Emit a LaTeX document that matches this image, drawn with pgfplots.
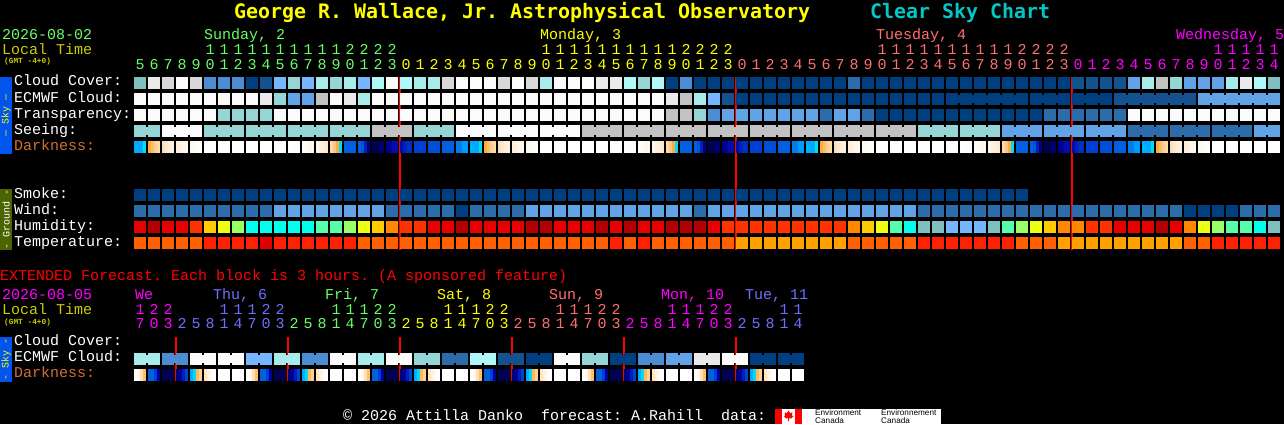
\documentclass[border=0pt]{standalone}
\usepackage{fontspec}
\setmainfont{Liberation Mono}
\newfontfamily\titlefont{DejaVu Sans Mono}
\newfontfamily\logofont{Liberation Sans}
\usepackage{pgfplots}
\usepackage{pgfplotstable}
\pgfplotsset{compat=1.18}
\frenchspacing

% cloud / transparency / seeing palette
\definecolor{kW}{HTML}{FBFBFB}\definecolor{kX}{HTML}{EAEAEA}\definecolor{kY}{HTML}{D8D8D8}
\definecolor{kZ}{HTML}{C2C2C2}\definecolor{kA}{HTML}{B0F8F8}\definecolor{kB}{HTML}{A8EBEB}
\definecolor{kC}{HTML}{95D5D5}\definecolor{kE}{HTML}{80BFBF}\definecolor{kF}{HTML}{76B5FF}
\definecolor{kG}{HTML}{62A2E6}\definecolor{kH}{HTML}{4C8CD3}\definecolor{kI}{HTML}{2C6CAB}
\definecolor{kJ}{HTML}{14528F}\definecolor{kK}{HTML}{003F7F}
% humidity
\definecolor{kr}{HTML}{E80000}\definecolor{ks}{HTML}{B40000}\definecolor{kq}{HTML}{FF3300}
\definecolor{ko}{HTML}{FF8800}\definecolor{kp}{HTML}{FFCC00}\definecolor{ky}{HTML}{EEFF11}
\definecolor{kg}{HTML}{99FF66}\definecolor{km}{HTML}{55FFAA}\definecolor{kn}{HTML}{00FFEE}
% temperature
\definecolor{ka}{HTML}{FF6000}\definecolor{kb}{HTML}{FF2000}\definecolor{kc}{HTML}{E00000}
\definecolor{kd}{HTML}{FFA000}
% text
\definecolor{dgreen}{HTML}{66FF66}\definecolor{dsalmon}{HTML}{FF6F6F}\definecolor{dblue}{HTML}{6F6FFF}
\definecolor{dmag}{HTML}{FF00FF}\definecolor{dyel}{HTML}{FFFF00}\definecolor{dred}{HTML}{FF0000}
\definecolor{lt}{HTML}{CCCC00}\definecolor{dk}{HTML}{D07030}\definecolor{csc}{HTML}{00C8C8}

\pgfdeclareplotmark{cell}{\pgfpathrectangle{\pgfpoint{-6pt}{-6pt}}{\pgfpoint{12pt}{12pt}}\pgfusepathqfill}
\pgfdeclareplotmark{link}{\pgfpathrectangle{\pgfpoint{-1.2pt}{-4pt}}{\pgfpoint{2.4pt}{8pt}}\pgfusepathqfill}
\pgfdeclareplotmark{slice}{\pgfpathrectangle{\pgfpoint{-1.6pt}{-6pt}}{\pgfpoint{3.2pt}{12pt}}\pgfusepathqfill}

\pgfplotsset{
  colormap={dark}{rgb255=(0,0,80) rgb255=(0,0,160) rgb255=(0,64,208) rgb255=(0,96,224) rgb255=(0,170,255)
    rgb255=(0,221,238) rgb255=(255,160,48) rgb255=(255,208,144) rgb255=(255,238,218) rgb255=(255,255,255)},
  classed/.style={scatter,only marks,scatter src=explicit symbolic,
    scatter/classes={
      W={kW},X={kX},Y={kY},Z={kZ},A={kA},B={kB},C={kC},E={kE},F={kF},G={kG},H={kH},I={kI},J={kJ},K={kK},
      r={kr},s={ks},q={kq},o={ko},p={kp},y={ky},g={kg},m={km},n={kn},
      a={ka},b={kb},c={kc},d={kd}}},
}

\pgfplotstableread[row sep=\\]{c\\
E\\X\\Y\\W\\Y\\H\\H\\H\\K\\J\\ F\\C\\F\\B\\C\\B\\F\\A\\W\\A\\
B\\B\\Y\\W\\W\\W\\Y\\W\\Y\\B\\ W\\W\\W\\X\\X\\A\\C\\A\\K\\H\\
K\\K\\K\\K\\K\\K\\K\\K\\K\\K\\ K\\I\\K\\K\\K\\K\\K\\K\\K\\K\\
K\\K\\K\\K\\K\\K\\K\\J\\J\\J\\ J\\G\\B\\Z\\C\\G\\G\\G\\B\\X\\
A\\E\\}\cloud
\pgfplotstableread[row sep=\\]{c\\
W\\W\\W\\W\\W\\W\\W\\W\\W\\X\\ C\\G\\G\\Z\\W\\X\\B\\W\\W\\W\\
W\\W\\W\\W\\W\\W\\W\\W\\W\\W\\ W\\W\\W\\W\\W\\W\\W\\W\\X\\Z\\
B\\F\\J\\K\\K\\K\\K\\K\\K\\K\\ K\\K\\K\\K\\K\\K\\K\\K\\K\\K\\
K\\K\\K\\K\\K\\K\\K\\K\\K\\K\\ J\\J\\J\\J\\J\\J\\G\\G\\G\\G\\
G\\G\\}\ecmwf
\pgfplotstableread[row sep=\\]{c\\
W\\W\\W\\W\\W\\W\\C\\C\\C\\C\\ W\\W\\W\\W\\W\\W\\W\\W\\W\\W\\
W\\W\\W\\W\\W\\W\\W\\W\\W\\W\\ W\\W\\W\\W\\W\\W\\W\\W\\Z\\Z\\
C\\H\\G\\G\\G\\G\\G\\G\\G\\I\\ G\\G\\I\\K\\K\\K\\K\\K\\K\\K\\
K\\K\\K\\K\\K\\I\\I\\I\\I\\I\\ I\\W\\W\\W\\W\\W\\W\\W\\W\\W\\
W\\W\\}\transp
\pgfplotstableread[row sep=\\]{c\\
C\\C\\W\\W\\W\\C\\C\\C\\C\\C\\ C\\C\\C\\C\\C\\C\\C\\Z\\Z\\Z\\
C\\C\\C\\W\\W\\W\\W\\W\\W\\W\\ W\\W\\Z\\Z\\Z\\Z\\Z\\Z\\Z\\Z\\
Z\\Z\\Z\\Z\\Z\\Z\\Z\\Z\\Z\\Z\\ Z\\Z\\Z\\Z\\Z\\Z\\C\\C\\C\\C\\
C\\C\\G\\G\\G\\G\\G\\G\\G\\G\\ G\\I\\I\\I\\I\\I\\I\\I\\I\\I\\
G\\G\\}\seeing
\pgfplotstableread[row sep=\\]{c\\
K\\K\\K\\K\\K\\K\\K\\K\\K\\K\\ K\\K\\K\\K\\K\\K\\K\\K\\K\\K\\
K\\K\\K\\K\\K\\K\\K\\K\\K\\K\\ K\\K\\K\\K\\K\\K\\K\\K\\K\\K\\
K\\K\\K\\K\\K\\K\\K\\K\\K\\K\\ K\\K\\K\\K\\K\\K\\K\\K\\K\\K\\
K\\K\\K\\K\\}\smoke
\pgfplotstableread[row sep=\\]{c\\
I\\I\\I\\I\\I\\I\\I\\I\\I\\I\\ G\\G\\G\\G\\G\\G\\G\\G\\I\\I\\
I\\I\\I\\K\\I\\I\\I\\I\\G\\G\\ G\\G\\G\\G\\G\\G\\G\\G\\G\\G\\
I\\G\\G\\G\\G\\G\\G\\G\\G\\G\\ G\\G\\G\\G\\G\\G\\I\\I\\I\\I\\
I\\I\\I\\I\\I\\I\\I\\I\\I\\I\\ I\\I\\I\\I\\I\\K\\K\\K\\K\\I\\
I\\I\\}\wind
\pgfplotstableread[row sep=\\]{c\\
r\\s\\r\\r\\q\\p\\y\\g\\n\\n\\ n\\n\\n\\m\\m\\g\\y\\p\\o\\q\\
q\\r\\r\\s\\r\\r\\r\\r\\s\\s\\ r\\r\\r\\s\\r\\s\\r\\r\\s\\s\\
s\\r\\q\\q\\q\\q\\q\\q\\q\\q\\ q\\o\\p\\y\\m\\n\\E\\E\\F\\F\\
F\\E\\m\\g\\y\\p\\o\\o\\q\\q\\ r\\r\\r\\s\\r\\o\\y\\g\\m\\m\\
n\\E\\}\humid
\pgfplotstableread[row sep=\\]{c\\
a\\a\\a\\a\\a\\b\\b\\b\\b\\c\\ b\\b\\b\\b\\b\\b\\a\\a\\a\\a\\
a\\a\\a\\a\\a\\a\\a\\a\\a\\a\\ a\\a\\a\\a\\b\\a\\b\\a\\a\\a\\
a\\a\\a\\d\\d\\d\\d\\d\\d\\d\\ d\\a\\a\\a\\a\\a\\b\\b\\b\\b\\
b\\b\\b\\a\\a\\a\\d\\d\\d\\d\\ d\\d\\d\\d\\d\\a\\a\\b\\b\\b\\
b\\b\\}\temper
\pgfplotstableread[row sep=\\]{c\\
B\\B\\H\\H\\W\\W\\W\\W\\F\\F\\ B\\B\\H\\H\\W\\W\\B\\B\\W\\W\\
C\\C\\I\\I\\A\\A\\J\\J\\K\\K\\ W\\W\\C\\C\\K\\K\\H\\H\\G\\G\\
X\\X\\W\\W\\K\\K\\K\\K\\}\extecmwf

% gaps that are bridged between cells of one block
\pgfplotstableread[row sep=\\]{k c\\
1 C\\3 W\\4 W\\6 C\\7 C\\9 C\\10 C\\12 C\\13 C\\15 C\\16 C\\18 Z\\19 Z\\21 C\\22 C\\24 W\\25 W\\27 W\\28 W\\30 W\\31 W\\
33 Z\\34 Z\\36 Z\\37 Z\\39 Z\\40 Z\\42 Z\\43 Z\\45 Z\\46 Z\\48 Z\\49 Z\\51 Z\\52 Z\\54 Z\\55 Z\\57 C\\58 C\\60 C\\61 C\\
63 G\\64 G\\66 G\\67 G\\69 G\\70 G\\72 I\\73 I\\75 I\\76 I\\78 I\\79 I\\81 G\\}\seeinglinks
\pgfplotstableread[row sep=\\]{k c\\
59 K\\60 K\\61 K\\62 K\\63 K\\65 K\\66 K\\68 K\\69 K\\71 J\\72 J\\73 J\\74 J\\75 J\\77 G\\78 G\\79 G\\80 G\\81 G\\}\ecmwflinks
\pgfplotstableread[row sep=\\]{k c\\
1 B\\3 H\\5 W\\7 W\\9 F\\11 B\\13 H\\15 W\\17 B\\19 W\\21 C\\23 I\\25 A\\27 J\\29 K\\31 W\\33 C\\35 K\\37 H\\39 G\\41 X\\43 W\\45 K\\47 K\\}\extlinks

% darkness: one day, four slices to the hour block, starting at the first column
\pgfplotstableread[row sep=\\]{d\\
4\\4\\4\\5\\ 6.2\\6.6\\7\\7.3\\ 7.5\\7.8\\8\\8.2\\ 8\\8.2\\8.4\\8.6\\ 8.5\\8.7\\8.8\\9\\ 9\\9\\9\\9\\
9\\9\\9\\9\\ 9\\9\\9\\9\\ 9\\9\\9\\9\\ 9\\9\\9\\9\\ 9\\9\\9\\9\\ 9\\9\\8.9\\8.8\\
8.9\\8.8\\8.6\\8.5\\ 8.4\\8.2\\8\\7.8\\ 7.3\\6.8\\6.2\\5\\ 3\\3\\3\\3\\ 3\\2.5\\1.5\\0.8\\ 0\\0\\0.2\\0.4\\
0.7\\1\\1.2\\1.2\\ 1.2\\1.5\\1.7\\1.7\\ 2\\2\\2\\2\\ 2.4\\2.4\\2.4\\2.4\\ 3\\3\\3\\3\\ 3.4\\3.4\\3.8\\3.8\\}\darkday
% extended darkness: one day of eight 3-hour blocks
\pgfplotstableread[row sep=\\]{d\\
9\\8.5\\7.5\\6.6\\ 3\\3\\2\\1\\ 0\\0\\0\\0\\ 0.5\\1\\1.5\\2\\ 4\\5\\6.5\\7\\ 7.7\\8.2\\8.7\\9\\ 9\\9\\9\\9\\ 9\\9\\9\\9\\}\darkext

\newcommand\cells[2]{\addplot[classed,mark=cell] table[x index=0,y index=0,x expr=\coordindex*14+140,y expr=#1,meta=c]{#2};}
\newcommand\links[2]{\addplot[classed,mark=link] table[x expr=\thisrow{k}*14+133,y expr=#1,meta=c]{#2};}
\newcommand\darkrow[3]{\addplot[scatter,only marks,mark=slice,point meta=explicit,restrict x to domain=134:1281]
  table[x index=0,y index=0,x expr={3*\coordindex+2*floor((\coordindex+0.5)/4)+135.5+#2},y expr=#1,meta=d]{#3};}
\newcommand\redline[3]{\addplot[color=dred,line width=2.2pt] coordinates {(#1,#2)(#1,#3)};}

\tikzset{
  t/.style={anchor=base west,inner sep=0pt,font=\fontsize{15}{15}\selectfont},
  dig/.style={anchor=base,inner sep=0pt,font=\fontsize{15}{15}\selectfont},
}
\newcommand\lab[4]{\node[t,text=#3] at (#1,#2) {#4};}
\newcommand\digs[4]{\foreach \d [count=\n from 0] in {#4} \node[dig,text=#3] at ({#1*14+140+\n*14},#2) {\d};}

\begin{document}
\begin{tikzpicture}
\useasboundingbox (0,0) rectangle (1284pt,424pt);
\fill[black] (0,0) rectangle (1284pt,424pt);
\begin{axis}[
  at={(0pt,0pt)},anchor=south west,
  width=1284pt,height=424pt,scale only axis,hide axis,
  xmin=0,xmax=1284,ymin=0,ymax=424,y dir=reverse,
  colormap name=dark,point meta min=0,point meta max=9,
]
\cells{83}{\cloud}
\cells{99}{\ecmwf}\links{99}{\ecmwflinks}
\cells{115}{\transp}
\cells{131}{\seeing}\links{131}{\seeinglinks}
\darkrow{147}{0}{\darkday}\darkrow{147}{336}{\darkday}\darkrow{147}{672}{\darkday}\darkrow{147}{1008}{\darkday}
\cells{195}{\smoke}
\cells{211}{\wind}
\cells{227}{\humid}
\cells{243}{\temper}
\redline{400}{77}{250}\redline{736}{77}{250}\redline{1072}{77}{250}
% extended forecast
\cells{359}{\extecmwf}\links{359}{\extlinks}
\darkrow{375}{0}{\darkext}\darkrow{375}{112}{\darkext}\darkrow{375}{224}{\darkext}
\darkrow{375}{336}{\darkext}\darkrow{375}{448}{\darkext}\darkrow{375}{560}{\darkext}
\redline{176}{337}{381}\redline{288}{337}{381}\redline{400}{337}{381}
\redline{512}{337}{381}\redline{624}{337}{381}\redline{736}{337}{381}
\end{axis}

\begin{scope}[x=1pt,y=-1pt,yshift=424pt]
% title
\node[t,font=\titlefont\fontsize{19.93}{20}\selectfont\bfseries,text=dyel] at (234,18.5) {George R. Wallace, Jr. Astrophysical Observatory};
\node[t,font=\titlefont\fontsize{19.93}{20}\selectfont\bfseries,text=csc] at (870,18.5) {Clear Sky Chart};
% header
\lab{2}{39.5}{dgreen}{2026-08-02}
\lab{2}{55}{lt}{Local Time}
\node[t,font=\fontsize{7.8}{8}\selectfont\bfseries,text=lt] at (4,63.5) {(GMT -4+0)};
\lab{204}{39.5}{dgreen}{Sunday, 2}
\lab{540}{39.5}{dyel}{Monday, 3}
\lab{876}{39.5}{dsalmon}{Tuesday, 4}
\lab{1176}{39.5}{dmag}{Wednesday, 5}
% hours
\digs{5}{55}{dgreen}{1,1,1,1,1,1,1,1,1,1,2,2,2,2}
\digs{29}{55}{dyel}{1,1,1,1,1,1,1,1,1,1,2,2,2,2}
\digs{53}{55}{dsalmon}{1,1,1,1,1,1,1,1,1,1,2,2,2,2}
\digs{77}{55}{dmag}{1,1,1,1,1}
\digs{0}{69.5}{dgreen}{5,6,7,8,9,0,1,2,3,4,5,6,7,8,9,0,1,2,3}
\digs{19}{69.5}{dyel}{0,1,2,3,4,5,6,7,8,9,0,1,2,3,4,5,6,7,8,9,0,1,2,3}
\digs{43}{69.5}{dsalmon}{0,1,2,3,4,5,6,7,8,9,0,1,2,3,4,5,6,7,8,9,0,1,2,3}
\digs{67}{69.5}{dmag}{0,1,2,3,4,5,6,7,8,9,0,1,2,3,4}
% row labels
\lab{14}{86}{white}{Cloud Cover:}
\lab{14}{102}{white}{ECMWF Cloud:}
\lab{14}{118}{white}{Transparency:}
\lab{14}{134}{white}{Seeing:}
\lab{14}{150}{dk}{Darkness:}
\lab{14}{198}{white}{Smoke:}
\lab{14}{214}{white}{Wind:}
\lab{14}{230}{white}{Humidity:}
\lab{14}{246}{white}{Temperature:}
% side bars
\fill[color={rgb,255:red,0;green,85;blue,238}] (0,77) rectangle (12,154);
\node[rotate=90,inner sep=0pt,text=dyel,font=\fontsize{10}{10}\selectfont] at (6,115.5) {--- Sky ---};
\fill[color={rgb,255:red,75;green,100;blue,0}] (0,189) rectangle (12,250);
\node[rotate=90,inner sep=0pt,text=white,font=\fontsize{10}{10}\selectfont] at (6,219.5) {- Ground -};
% extended
\lab{0}{280}{dred}{EXTENDED Forecast. Each block is 3 hours. (A sponsored feature)}
\lab{2}{299}{dmag}{2026-08-05}
\lab{2}{314}{lt}{Local Time}
\node[t,font=\fontsize{7.8}{8}\selectfont\bfseries,text=lt] at (4,324) {(GMT -4+0)};
\lab{135}{299}{dmag}{We}
\lab{213}{299}{dblue}{Thu, 6}
\lab{325}{299}{dgreen}{Fri, 7}
\lab{437}{299}{dyel}{Sat, 8}
\lab{549}{299}{dsalmon}{Sun, 9}
\lab{661}{299}{dmag}{Mon, 10}
\lab{745}{299}{dblue}{Tue, 11}
\digs{0}{314}{dmag}{1,2,2}
\digs{6}{314}{dblue}{1,1,1,2,2}
\digs{14}{314}{dgreen}{1,1,1,2,2}
\digs{22}{314}{dyel}{1,1,1,2,2}
\digs{30}{314}{dsalmon}{1,1,1,2,2}
\digs{38}{314}{dmag}{1,1,1,2,2}
\digs{46}{314}{dblue}{1,1}
\digs{0}{328}{dmag}{7,0,3}
\digs{3}{328}{dblue}{2,5,8,1,4,7,0,3}
\digs{11}{328}{dgreen}{2,5,8,1,4,7,0,3}
\digs{19}{328}{dyel}{2,5,8,1,4,7,0,3}
\digs{27}{328}{dsalmon}{2,5,8,1,4,7,0,3}
\digs{35}{328}{dmag}{2,5,8,1,4,7,0,3}
\digs{43}{328}{dblue}{2,5,8,1,4}
\lab{14}{345}{white}{Cloud Cover:}
\lab{14}{361}{white}{ECMWF Cloud:}
\lab{14}{377}{dk}{Darkness:}
\fill[color={rgb,255:red,0;green,85;blue,238}] (0,337) rectangle (12,382);
\node[rotate=90,inner sep=0pt,text=dyel,font=\fontsize{10}{10}\selectfont] at (6,359.5) {- Sky -};
% footer
\lab{343}{420.5}{white}{© 2026 Attilla Danko\ \ forecast: A.Rahill\ \ data:}
\fill[white] (775,409) rectangle (941,424);
\fill[dred] (775,409) rectangle (782,424);
\fill[dred] (795,409) rectangle (802,424);
\fill[dred] (788.5,410.5)--(790,413)--(792.5,412.5)--(791.8,415.5)--(793.5,416)--(791,418.5)--(789,418)--(789,421)--(788,421)--(788,418)--(786,418.5)--(783.5,416)--(785.2,415.5)--(784.5,412.5)--(787,413)--cycle;
\node[anchor=base west,inner sep=0pt,text=black,font=\logofont\fontsize{8.2}{8}\selectfont] at (815,415) {Environment};
\node[anchor=base west,inner sep=0pt,text=black,font=\logofont\fontsize{8.2}{8}\selectfont] at (815,423) {Canada};
\node[anchor=base west,inner sep=0pt,text=black,font=\logofont\fontsize{8.2}{8}\selectfont] at (881,415) {Environnement};
\node[anchor=base west,inner sep=0pt,text=black,font=\logofont\fontsize{8.2}{8}\selectfont] at (881,423) {Canada};
\end{scope}
\end{tikzpicture}
\end{document}
